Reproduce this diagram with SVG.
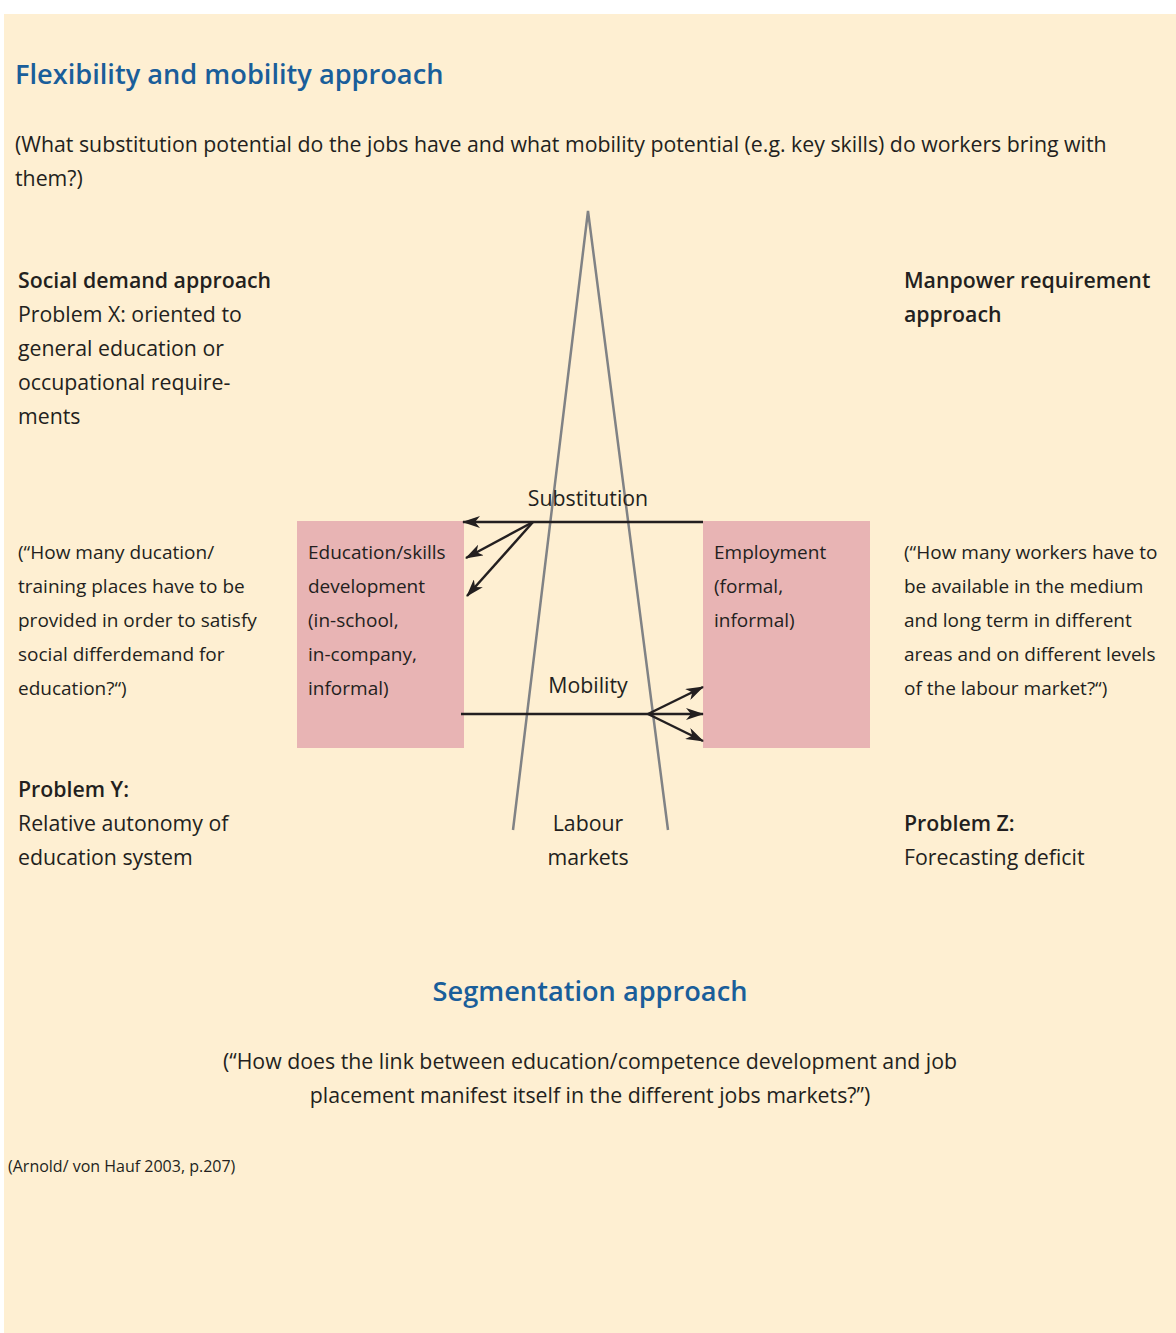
<svg xmlns="http://www.w3.org/2000/svg" width="1176" height="1333" viewBox="0 0 1176 1333">
<style>
text{font-family:"Open Sans","Noto Sans",sans-serif;fill:#231f20;font-size:21.3px}
.h{fill:#1a5e9a;font-size:27.2px;font-weight:600}
.b{font-weight:600}
.m{font-size:19px}
.c{text-anchor:middle}
.box{fill:#e8b4b4}
.tri{fill:none;stroke:#808285;stroke-width:2.5}
.ar{fill:none;stroke:#231f20;stroke-width:2.5}
</style>
<defs>
<marker id="ah" viewBox="0 0 18 12" refX="17" refY="6" markerWidth="18" markerHeight="12" markerUnits="userSpaceOnUse" orient="auto">
<path d="M0,0 L18,6 L0,12 L5,6 Z" fill="#231f20"/>
</marker>
</defs>
<rect x="4" y="14" width="1172" height="1319" fill="#feefd2"/>
<g id="title"><text class="h" x="15" y="84">Flexibility and mobility approach</text></g>
<g id="question-top">
<text x="15" y="152">(What substitution potential do the jobs have and what mobility potential (e.g. key skills) do workers bring with</text>
<text x="15" y="186">them?)</text>
</g>
<g id="social-demand">
<text class="b" x="18" y="288">Social demand approach</text>
<text x="18" y="322">Problem X: oriented to</text>
<text x="18" y="356">general education or</text>
<text x="18" y="390">occupational require-</text>
<text x="18" y="424">ments</text>
</g>
<g id="manpower">
<text class="b" x="904" y="288">Manpower requirement</text>
<text class="b" x="904" y="322">approach</text>
</g>
<g id="labour-markets">
<polyline class="tri" points="513,830 588,211 668,830"/>
<text class="c" x="588" y="831">Labour</text>
<text class="c" x="588" y="865">markets</text>
</g>
<g id="education">
<rect class="box" x="297" y="521" width="167" height="227"/>
<text class="m" x="308" y="559">Education/skills</text>
<text class="m" x="308" y="593">development</text>
<text class="m" x="308" y="627">(in-school,</text>
<text class="m" x="308" y="661">in-company,</text>
<text class="m" x="308" y="695">informal)</text>
</g>
<g id="employment">
<rect class="box" x="703" y="521" width="167" height="227"/>
<text class="m" x="714" y="559">Employment</text>
<text class="m" x="714" y="593">(formal,</text>
<text class="m" x="714" y="627">informal)</text>
</g>
<g id="connectors">
<line class="ar" x1="703" y1="522" x2="463" y2="522" marker-end="url(#ah)"/>
<line class="ar" x1="533" y1="522" x2="466" y2="558" marker-end="url(#ah)"/>
<line class="ar" x1="533" y1="522" x2="467" y2="596" marker-end="url(#ah)"/>
<line class="ar" x1="461" y1="714" x2="703" y2="714" marker-end="url(#ah)"/>
<line class="ar" x1="648" y1="714" x2="703" y2="687" marker-end="url(#ah)"/>
<line class="ar" x1="648" y1="714" x2="703" y2="741" marker-end="url(#ah)"/>
<text class="c" x="588" y="506">Substitution</text>
<text class="c" x="588" y="693">Mobility</text>
</g>
<g id="question-left">
<text class="m" x="18" y="559">(“How many ducation/</text>
<text class="m" x="18" y="593">training places have to be</text>
<text class="m" x="18" y="627">provided in order to satisfy</text>
<text class="m" x="18" y="661">social differdemand for</text>
<text class="m" x="18" y="695">education?“)</text>
</g>
<g id="question-right">
<text class="m" x="904" y="559">(“How many workers have to</text>
<text class="m" x="904" y="593">be available in the medium</text>
<text class="m" x="904" y="627">and long term in different</text>
<text class="m" x="904" y="661">areas and on different levels</text>
<text class="m" x="904" y="695">of the labour market?“)</text>
</g>
<g id="problem-y">
<text class="b" x="18" y="797">Problem Y:</text>
<text x="18" y="831">Relative autonomy of</text>
<text x="18" y="865">education system</text>
</g>
<g id="problem-z">
<text class="b" x="904" y="831">Problem Z:</text>
<text x="904" y="865">Forecasting deficit</text>
</g>
<g id="segmentation">
<text class="h c" x="590" y="1001">Segmentation approach</text>
<text class="c" x="590" y="1069">(“How does the link between education/competence development and job</text>
<text class="c" x="590" y="1103">placement manifest itself in the different jobs markets?”)</text>
</g>
<g id="source"><text x="8" y="1172" style="font-size:16px">(Arnold/ von Hauf 2003, p.207)</text></g>
</svg>
